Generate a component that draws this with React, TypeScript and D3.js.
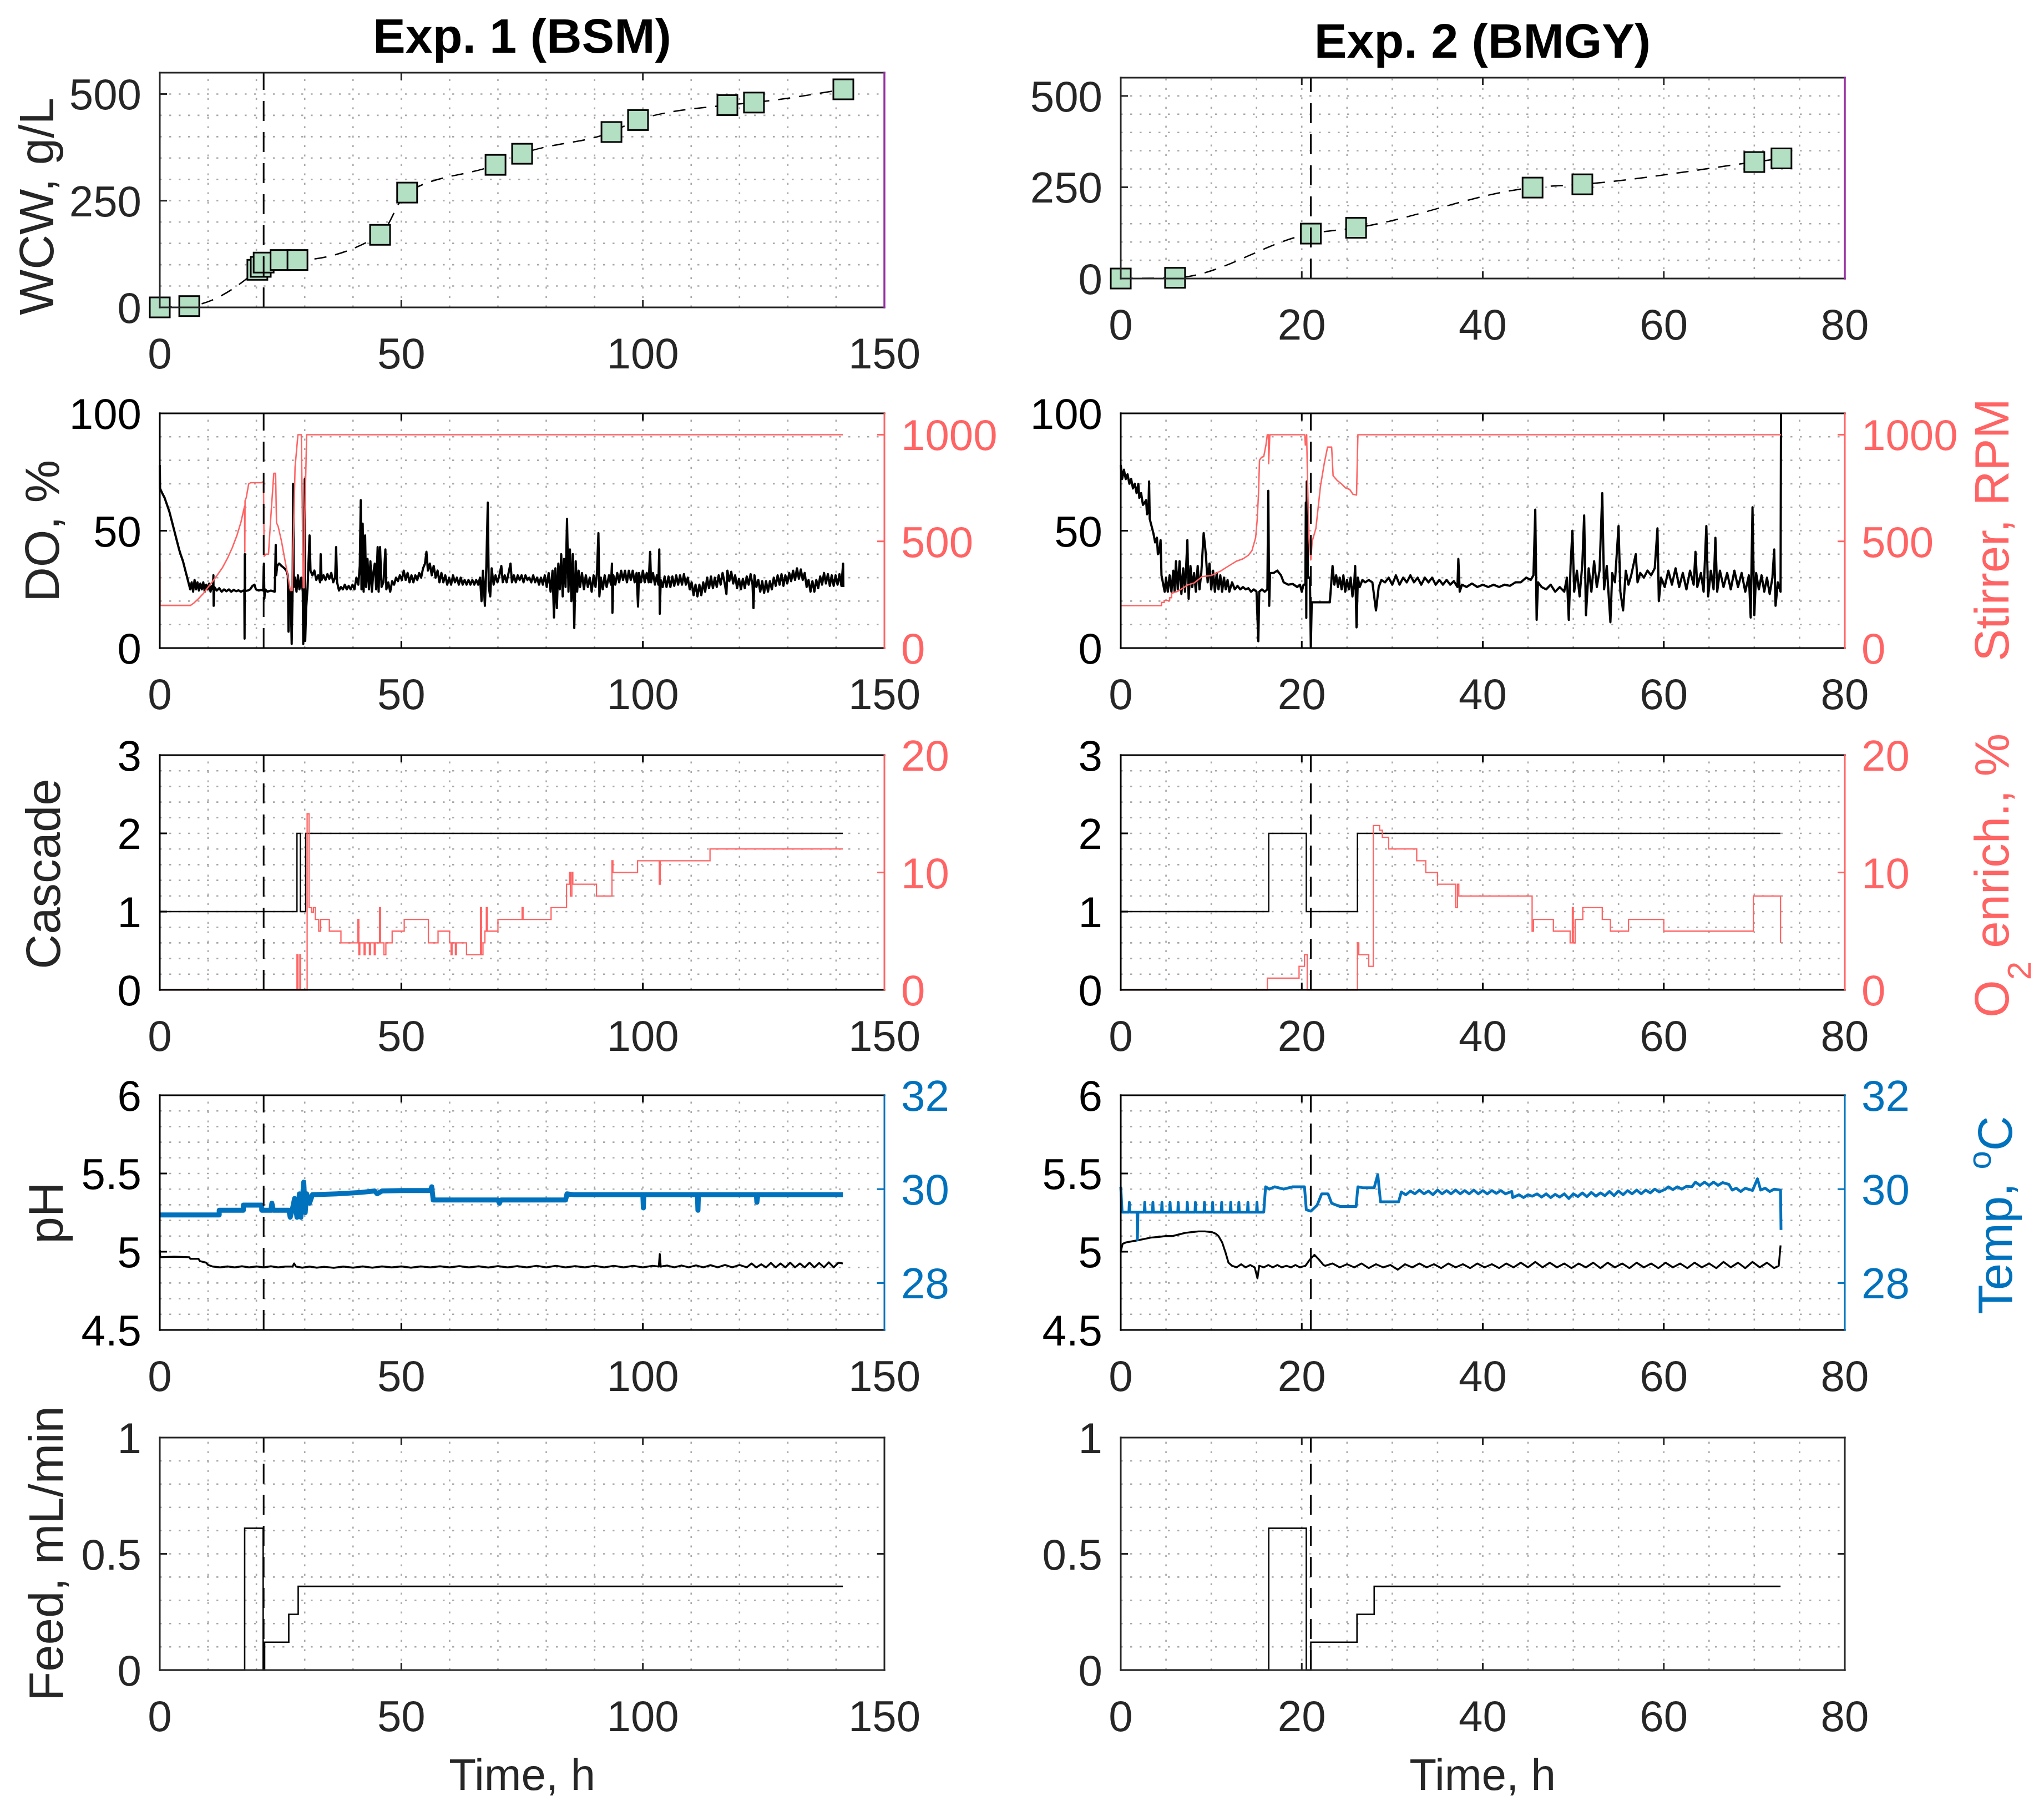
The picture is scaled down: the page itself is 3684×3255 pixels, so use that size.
import React from "react";
import * as d3 from "d3";

type Pt = [number, number];

// ================= Exp. 1 (BSM) =================
const wcw1Time = [0, 6.1, 20.2, 20.9, 21.5, 25, 28.5, 45.6, 51.2, 69.5, 75, 93.5, 99, 117.5, 123, 141.5];
const wcw1Value = [0, 3, 88, 95, 105, 111, 111, 170, 269, 334, 360, 411, 439, 474, 480, 511];

const do1: Pt[] = [
  [0,78],[0.05,68],[0.5,66],[1,64],[1.5,61],[2,58],[2.5,54],[3,50],[3.5,46],[4,42],[4.3,40],[4.8,37],[5.3,33],[5.8,29],[6.3,25],
  [6.6,28],[6.9,24],[7.2,29],[7.5,25],[7.8,28],[8.1,24.5],[8.4,27.5],[8.7,25],[9,28],[9.3,24],[9.6,27],[9.9,25],[10.2,27.5],[10.5,24],[10.8,26.5],[11.0,25],[11.1,31],[11.15,18],[11.3,26],
  [11.8,24.5],[12.3,25.5],[12.8,24],[13.3,25],[13.8,24.2],[14.3,25],[14.8,24],[15.3,24.8],[15.8,24.2],[16.3,24.6],[16.8,24],[17.3,24.5],[17.5,24.3],[17.55,4],[17.6,40],[17.65,24.3],
  [18.2,24.5],[18.7,25],[19.2,26.5],[19.6,27],[19.9,25],[20.5,24.5],[21.0,24.8],[21.4,24.5],[21.55,36],[21.65,21],[21.8,25],[22.3,24],[23.0,24.5],[23.8,24],[24.0,44],[24.1,31],[24.3,35],[24.7,36],[25.2,35],[25.8,34],[26.2,33],[26.5,31],[26.65,7],[26.8,25],[27.1,24],[27.3,1.7],[27.5,25],[27.6,70],[27.75,26],[28.0,30],[28.3,24],[28.6,31],[28.9,25],[29.3,30],[29.6,24],[29.7,1.7],[29.85,30],[30.0,72],[30.1,3],[30.3,17],[30.6,26],[31.0,48],[31.2,33],
  [31.6,31],[32.0,33],[32.4,29],[32.8,31],[33.2,28],[33.3,40],[33.5,29],[33.9,31],[34.3,29],[34.7,31.5],[35.1,29.5],[35.5,32],[35.9,28],[36.3,30],[36.5,43],[36.7,28],[37.1,24.5],[37.5,26],[37.9,25],[38.3,27],[38.7,25],[39.1,26.5],[39.5,25],[39.9,27],[40.3,25],[40.7,30],[41.1,27],[41.4,35],[41.6,63],[41.75,25],[42.0,53],[42.2,24],[42.5,48],[42.7,26],[43.0,38],[43.3,25],[43.6,37],[43.9,24],[44.2,32],[44.5,36],[44.8,25],[45.1,43],[45.3,24],[45.6,43],[45.9,26],[46.3,28],[46.7,42],[46.9,25],[47.3,28],[47.7,24],[48.1,28.5],[48.5,27],[48.9,30],[49.3,28.5],[49.7,31],
  [50.1,29],[50.5,33],[50.9,29],[51.3,32],[51.7,28],[52.1,31],[52.5,28],[52.9,31],[53.3,29],[53.7,32],[54.1,30],[54.5,34],[54.9,36],[55.2,41],[55.5,33],[55.9,36],[56.3,31],[56.7,35],[57.1,30],[57.5,33],[57.9,28],[58.3,32],[58.7,28],[59.1,31],[59.5,27],[59.9,30],[60.3,27],[60.7,31],[61.1,28],[61.5,30],[61.9,27],[62.3,30],[62.7,27],[63.1,29],[63.5,27],[63.9,29],[64.3,27],[64.7,29],[65.1,27],[65.5,29],[65.9,27],[66.3,30],[66.6,20],[66.9,33],[67.3,18],[67.6,35],[67.9,62],[68.1,26],[68.4,22],[68.7,34],[69.1,27],[69.5,31],[69.9,28],[70.3,31],[70.7,35],[71.0,28],[71.4,31],[71.8,28],[72.2,32],[72.6,36],[72.9,28],[73.3,31],[73.7,28],[74.1,31],[74.5,29],[74.9,31],[75.3,28],[75.7,31],[76.1,29],[76.5,30],[76.9,28],[77.3,31],[77.7,28],[78.1,30],[78.5,27],[78.9,30],[79.3,27],[79.7,31],
  [80.1,26],[80.5,32],[80.9,24],[81.3,33],[81.6,13],[81.9,34],[82.2,17],[82.5,36],[82.8,25],[83.1,40],[83.4,22],[83.7,38],[84.0,26],[84.3,55],[84.6,24],[84.9,42],[85.2,20],[85.5,40],[85.8,8.5],[86.1,37],[86.4,24],[86.7,33],[87.0,26],[87.4,32],[87.8,25],[88.2,31],[88.6,26],[89.0,30],[89.4,24],[89.8,31],[90.2,26],[90.5,32],[90.8,49],[91.0,22],[91.3,30],[91.7,25],[92.1,31],[92.5,26],[92.9,30],
  [93.0,31],[93.4,27],[93.6,36],[93.7,15],[93.9,31],[94.3,27],[94.7,32],[95.1,28],[95.5,33],[95.9,29],[96.3,33],[96.7,28],[97.1,33],[97.5,29],[97.9,33],[98.3,28],[98.7,32],[99.0,17.7],[99.2,32],[99.6,28],[100.0,33],[100.4,28],[100.8,32],[101.2,28],[101.5,41],[101.7,28],[102.1,32],[102.5,27],[102.9,31],[103.2,27],[103.4,42],[103.5,14.6],[103.7,29],[104.1,26],[104.5,30.5],[104.9,26],[105.3,30.5],[105.7,26],[106.1,30.5],[106.5,26.5],[106.9,31],[107.3,27],[107.7,31],[108.1,27],[108.5,31.5],[108.9,27],[109.3,30],[109.7,25],[110.1,28],[110.5,22.5],[110.9,27],[111.3,22],[111.7,27],[112.1,22.5],[112.5,28],[112.9,24],[113.3,30],[113.7,25.5],[114.1,30.5],[114.5,25.5],[114.9,30],[115.3,26],[115.7,31],[116.1,27],[116.5,32],[116.9,28],[117.3,23],[117.5,33],[117.9,28.5],[118.3,32.5],[118.7,27.5],[119.1,31],[119.5,25.5],[119.9,29.5],
  [120.3,25],[120.7,29.5],[121.1,25.5],[121.5,30.5],[121.9,27],[122.3,31.5],[122.7,27],[122.9,17],[123.1,31],[123.5,26],[123.9,29],[124.3,24],[124.7,28.5],[125.1,23.5],[125.5,28.5],[125.9,24],[126.3,28.5],[126.7,25],[127.1,30],[127.5,26.5],[127.9,31],[128.3,27],[128.7,31.5],[129.1,26.5],[129.5,31],[129.9,27.5],[130.3,32],[130.7,28.5],[131.1,33],[131.5,29],[131.9,34],[132.3,29.5],[132.7,33.5],[133.1,29],[133.5,32],[133.9,26],[134.3,29],[134.7,24],[135.1,28.5],[135.5,24],[135.9,29],[136.3,25.5],[136.7,30.5],[137.1,27],[137.5,32],[137.9,27.5],[138.3,31.5],[138.7,26.5],[139.1,31],[139.5,26.5],[139.9,31],[140.3,27],[140.7,31.5],[141.1,26.5],[141.45,36],[141.5,26]
];

const stirrer1: Pt[] = [
  [0,405],[0.02,200],[6.36,200],[7,210],[8,231],[9,255],[10,285],[11,314],[12,345],[13,378],[14,420],[15,470],[16,530],[16.8,590],[17.3,640],[17.55,665],[17.6,450],[17.65,690],[17.9,705],[18.4,769],[18.8,775],[21.0,775],[21.47,780],[21.6,430],[21.97,440],[22.5,440],[23.0,620],[23.6,819],[23.97,819],[24.16,587],[24.5,570],[25.2,500],[25.9,413],[26.5,340],[27.03,270],[27.4,270],[28.0,847],[28.6,1000],[29.3,1000],[29.7,283],[29.9,283],[30.0,600],[30.4,1000],[141.4,1000]
];

const cascade1: Pt[] = [[0,1],[28.4,2],[29.1,1],[30.2,2],[141.4,2]];

const o2Enrich1: Pt[] = [
  [0,0],[28.4,3],[28.6,0],[29.0,3],[29.15,0],[30.5,15],[30.9,7],[31.4,6.6],[31.8,7],[32.2,6],[32.9,5],[33.3,6],[35.1,5],[37.5,4],[41.0,6],[41.2,3],[41.4,4],[42.3,3],[42.5,4],[43.4,3],[43.6,4],[44.4,3],[44.6,4],[45.5,7],[45.7,4],[46.4,3],[46.8,4],[48.1,5],[50.6,6],[55.6,4],[57.6,5],[60.0,4],[60.3,3],[60.5,4],[61.2,3],[61.4,4],[63.5,3],[66.4,7],[66.6,3],[66.9,4],[67.3,5],[67.6,7],[67.8,5],[70.0,6],[75.0,7],[75.2,6],[81.0,7],[84.2,9],[84.8,10],[85.0,8],[85.3,10],[85.5,9],[90.4,8],[93.6,11],[93.8,10],[98.9,11],[103.4,9],[103.6,11],[113.9,12],[141.4,12]
];

const ph1: Pt[] = [
  [0,5.01],[0.1,4.965],[3,4.968],[6.1,4.965],[6.3,4.955],[8.0,4.955],[8.3,4.94],[9.6,4.93],[10.0,4.915],[11.0,4.905],[12.5,4.9],[14,4.906],[15.5,4.9],[17,4.907],[18.5,4.9],[20,4.906],[21.5,4.9],[23,4.907],[24.5,4.9],[26,4.905],[27.5,4.905],[27.8,4.925],[28.2,4.905],[29.5,4.898],[31,4.905],[32.5,4.898],[34,4.904],[36,4.897],[38,4.905],[40,4.898],[42,4.906],[44,4.898],[46,4.906],[48,4.9],[50,4.906],[52,4.898],[54,4.906],[56,4.9],[58,4.907],[60,4.9],[62,4.908],[64,4.9],[66,4.907],[68,4.899],[70,4.908],[72,4.9],[74,4.908],[76,4.9],[78,4.91],[80,4.9],[82,4.91],[84,4.9],[86,4.908],[88,4.9],[90,4.91],[92,4.9],[94,4.91],[96,4.9],[98,4.91],[100,4.9],[102,4.91],[103.3,4.905],[103.5,4.985],[103.7,4.905],[105,4.912],[106.5,4.9],[108,4.912],[109.5,4.9],[111,4.913],[112.5,4.9],[114,4.914],[115.5,4.9],[117,4.915],[118.5,4.9],[120,4.915],[121.5,4.9],[122.5,4.925],[123.5,4.9],[124.5,4.92],[125.5,4.9],[126.5,4.928],[127.5,4.9],[128.5,4.925],[129.5,4.9],[130.5,4.93],[131.5,4.9],[132.5,4.925],[133.5,4.9],[134.5,4.93],[135.5,4.9],[136.5,4.928],[137.5,4.9],[138.5,4.932],[139.5,4.9],[140.5,4.93],[141.4,4.925]
];

const temp1: Pt[] = [
  [0,29.45],[12.3,29.45],[12.3,29.55],[17.3,29.55],[17.3,29.66],[21.1,29.66],[21.1,29.55],[23.0,29.55],[23.2,29.7],[23.5,29.55],[26.7,29.55],[27.0,29.4],[27.5,29.6],[27.9,29.8],[28.4,29.4],[28.9,29.9],[29.2,29.4],[29.8,30.15],[30.1,29.5],[30.4,29.9],[31.0,29.7],[31.6,29.88],[36.6,29.9],[41.6,29.93],[44.5,29.96],[45,29.9],[46,29.96],[50.3,29.97],[56,29.97],[56.3,30.05],[56.6,29.77],[70,29.77],[70.3,29.7],[70.6,29.77],[84,29.77],[84.3,29.9],[85.8,29.88],[100,29.88],[100.1,29.6],[100.2,29.88],[111.3,29.88],[111.4,29.55],[111.5,29.88],[123.5,29.88],[123.6,29.72],[123.8,29.88],[141.4,29.88]
];

const feed1: Pt[] = [[0,0],[17.57,0.61],[21.4,0],[21.7,0.12],[26.7,0.24],[28.65,0.36],[141.4,0.36]];
const induction1 = 21.5;

// ================= Exp. 2 (BMGY) =================
const wcw2Time = [0, 6, 21, 26, 45.5, 51, 70, 73];
const wcw2Value = [0, 2, 123, 139, 249, 258, 319, 329];

const do2: Pt[] = [
  [0,78],[0.15,72],[0.35,76],[0.55,72],[0.75,74],[0.95,70],[1.15,72],[1.35,68],[1.55,70],[1.75,66],[1.94,70],[2.05,64],[2.25,66],[2.45,61],[2.65,62],[2.8,63],[2.9,57],[3.05,58],[3.13,71],[3.2,55],[3.4,52],[3.6,49],[3.8,45],[4.0,47],[4.1,40],[4.25,41],[4.4,46],[4.5,31],[4.7,27],[4.85,24],
  [5.0,30],[5.2,24],[5.4,31],[5.6,24],[5.8,33],[5.95,24],[6.1,37],[6.3,25],[6.5,37],[6.7,23],[6.9,34],[7.1,24],[7.36,46],[7.5,21],[7.7,35],[7.9,26],[8.1,32],[8.3,24],[8.5,35],[8.7,25],[8.9,32],[9.16,49],[9.4,40],[9.6,28],[9.8,36],[10.0,25],[10.2,33],[10.4,24],[10.6,32],[10.8,25],[11.0,31],[11.2,24],[11.4,30],[11.6,25],[11.8,29],[12.0,24],[12.3,28],[12.6,25],[12.9,26.5],[13.2,25],[13.5,26],[13.8,25],[14.1,25.5],[14.4,24],[14.7,25],[15.0,24],[15.2,2.9],[15.3,24],[15.6,25],[15.9,24],[16.2,25],[16.3,67],[16.4,18],[16.5,32],[16.9,32],[17.3,33],[17.7,31],[18.0,28],[18.5,27],[19.0,27.3],[19.5,26],[19.8,27],[20.0,24],[20.2,27],[20.4,27],[20.45,62],[20.5,12.8],[20.55,71],[20.7,30],[20.9,30],[21.0,0.5],[21.1,19.5],[23.1,19.5],
  [23.4,35],[23.6,27],[23.8,31],[24.0,26],[24.2,30],[24.4,25],[24.6,31],[24.8,24],[25.0,29],[25.2,25],[25.4,30],[25.6,22],[25.8,28],[25.9,35],[26.05,8.8],[26.2,30],[26.4,26],[26.7,29],[27.0,28],[27.4,29],[27.8,28],[28.0,22],[28.2,16],[28.5,26],[28.8,29],[29.2,28],[29.6,30],
  [30.0,27],[30.4,31],[30.8,27],[31.2,30],[31.6,28],[32.0,31],[32.4,28],[32.8,30],[33.2,27],[33.6,30],[34.0,28],[34.4,30],[34.8,27],[35.2,29],[35.6,27],[36.0,29],[36.4,27],[36.8,28.5],[37.2,26],[37.3,38],[37.45,24],[37.7,27],[38.2,26],[38.8,27.5],[39.4,26],[40.0,27],[40.6,26],[41.2,27],[41.8,26],[42.4,27],[43.0,26.5],[43.6,28],[44.2,28],[44.8,30],[45.3,29],[45.6,31],[45.8,59],[45.95,12],[46.1,28],[46.5,26],[47.0,25],[47.5,27],[48.0,24],[48.5,26],[49.0,24],[49.3,30],[49.5,12],[49.7,35],[49.9,50],[50.1,24],[50.4,33],[50.7,22],[51.0,36],[51.2,56.5],[51.4,14],[51.7,34],[52.0,24],[52.3,37],[52.6,26],[52.9,33],[53.2,66],[53.4,25],[53.7,35],[54.1,11],[54.3,32],[54.6,28],[55.0,52],[55.2,24],[55.5,16],[55.8,33],[56.1,27],[56.4,31],[56.9,40],[57.1,28],[57.4,32],[57.8,30],[58.2,33],[58.6,31],[59.0,34],[59.3,51],[59.45,20],[59.7,30],
  [60.1,26],[60.5,33],[60.9,27],[61.3,34],[61.7,26],[62.1,32],[62.5,25],[62.9,33],[63.3,27],[63.5,41],[63.7,26],[64.1,32],[64.4,24],[64.7,52],[64.9,22],[65.2,33],[65.5,25],[65.7,47],[65.9,24],[66.2,33],[66.6,26],[67.0,32],[67.4,25],[67.8,33],[68.2,26],[68.6,32],[69.0,24],[69.4,31],[69.6,13],[69.8,60],[70.0,14],[70.2,32],[70.5,25],[70.8,31],[71.1,24],[71.4,30],[71.7,23],[72.0,30],[72.2,42],[72.35,18],[72.6,28],[72.9,24],[72.95,100]
];

const stirrer2: Pt[] = [
  [0,199],[4.5,199],[4.5,214],[4.8,214],[4.8,223],[5.4,223],[5.4,236],[5.62,236],[5.62,257],[6.3,266],[6.8,279],[7.4,296],[8.1,305],[8.99,335],[10.0,340],[11.04,361],[11.7,379],[12.2,392],[12.77,407],[13.5,418],[14.1,435],[14.5,457],[14.9,517],[15.08,604],[15.23,734],[15.33,881],[15.55,894],[15.8,898],[16.04,951],[16.19,1000],[16.31,1000],[16.34,864],[16.47,1000],[20.33,1000],[20.4,951],[20.54,1000],[20.64,777],[20.8,517],[21.0,413],[21.15,500],[21.56,561],[22.07,760],[22.48,864],[22.85,942],[23.3,942],[23.46,808],[23.9,786],[24.4,769],[24.83,751],[25.3,743],[25.65,721],[26.05,717],[26.2,1000],[72.95,1000]
];

const cascade2: Pt[] = [[0,1],[16.35,2],[20.5,1],[26.15,2],[72.9,2]];

const o2Enrich2: Pt[] = [
  [0,0],[16.2,1],[19.7,2],[20.3,3],[20.6,0],[26.15,4],[26.3,3],[27.4,2],[27.9,14],[28.4,14],[28.6,13.6],[28.9,13],[29.6,12],[32.7,11],[33.7,10],[35.0,9],[37.0,7],[37.2,9],[37.35,8],[45.45,5],[45.6,6],[47.8,5],[49.65,4],[49.9,7],[50.0,4],[50.2,6],[51.05,7],[53.2,6],[54.1,5],[56.1,6],[60.0,5],[69.9,8],[72.9,4]
];

const ph2: Pt[] = [
  [0,5.0],[0.2,5.05],[0.6,5.06],[1.6,5.07],[2.5,5.08],[3.3,5.09],[4.2,5.095],[5.0,5.1],[5.7,5.1],[6.4,5.11],[7.1,5.12],[7.8,5.125],[8.6,5.13],[9.3,5.13],[10.1,5.125],[10.5,5.115],[10.8,5.1],[11.2,5.06],[11.6,4.99],[11.9,4.93],[12.3,4.91],[12.8,4.9],[13.3,4.92],[13.8,4.9],[14.3,4.915],[14.8,4.9],[15.1,4.83],[15.3,4.91],[15.8,4.9],[16.3,4.915],[16.8,4.9],[17.3,4.915],[17.8,4.9],[18.3,4.91],[18.8,4.9],[19.3,4.915],[19.8,4.9],[20.4,4.91],[20.9,4.95],[21.4,4.98],[21.9,4.95],[22.4,4.915],[22.6,4.91],
  [23.4,4.925],[24.2,4.9],[25,4.92],[25.8,4.9],[26.6,4.925],[27.4,4.895],[28.2,4.92],[29,4.9],[29.8,4.915],[30.6,4.885],[31.4,4.92],[32.2,4.9],[33,4.925],[33.8,4.9],[34.6,4.92],[35.4,4.895],[36.2,4.925],[37,4.9],[37.8,4.92],[38.6,4.895],[39.4,4.925],[40.2,4.9],[41,4.92],[41.8,4.895],[42.6,4.925],[43.4,4.9],[44.2,4.93],[45,4.9],[45.8,4.935],[46.6,4.9],[47.4,4.93],[48.2,4.9],[49,4.925],[49.8,4.895],[50.6,4.925],[51.4,4.9],[52.2,4.93],[53,4.895],[53.8,4.93],[54.6,4.9],[55.4,4.925],[56.2,4.895],[57,4.93],[57.8,4.9],[58.6,4.925],[59.4,4.895],[60.2,4.93],[61,4.9],[61.8,4.925],[62.6,4.895],[63.4,4.93],[64.2,4.9],[65,4.925],[65.8,4.895],[66.6,4.935],[67.4,4.9],[68.2,4.93],[69,4.895],[69.8,4.935],[70.6,4.9],[71.4,4.93],[72.2,4.895],[72.7,4.91],[72.9,5.04]
];

const temp2: Pt[] = [
  [0,30.05],[0.15,29.51],[0.9,29.51],[0.95,29.72],[1.0,29.51],[1.8,29.51],[1.84,28.92],[1.9,29.51],[2.6,29.51],[2.65,29.72],[2.7,29.51],[3.5,29.51],[3.55,29.72],[3.6,29.51],[4.5,29.51],[4.55,29.72],[4.6,29.51],[5.4,29.51],[5.45,29.72],[5.5,29.51],[6.3,29.51],[6.35,29.72],[6.4,29.51],[7.3,29.51],[7.35,29.72],[7.4,29.51],[8.2,29.51],[8.25,29.72],[8.3,29.51],[9.2,29.51],[9.25,29.72],[9.3,29.51],[10.1,29.51],[10.15,29.72],[10.2,29.51],[11.1,29.51],[11.15,29.72],[11.2,29.51],[12.1,29.51],[12.15,29.72],[12.2,29.51],[13.0,29.51],[13.05,29.72],[13.1,29.51],[14.0,29.51],[14.05,29.72],[14.1,29.51],[15.0,29.51],[15.05,29.72],[15.1,29.51],[15.8,29.51],
  [16.0,30.05],[16.4,30.0],[17.0,30.05],[18.0,30.0],[19.0,30.05],[20.3,30.05],[20.5,29.56],[21.0,29.53],[21.7,29.66],[22.2,29.9],[22.9,29.9],[23.3,29.7],[24.2,29.63],[26.0,29.63],[26.2,30.05],[26.7,30.03],[28.0,30.03],[28.4,30.31],[28.7,29.73],[30.7,29.73],
  [31.0,29.94],[31.5,29.88],[32,29.96],[32.5,29.9],[33,29.98],[33.5,29.9],[34,29.96],[34.5,29.88],[35,29.98],[35.5,29.9],[36,29.97],[36.5,29.9],[37,29.98],[37.5,29.9],[38,29.97],[38.5,29.9],[39,29.98],[39.5,29.9],[40,29.97],[40.5,29.9],[41,29.97],[41.5,29.91],[42,29.97],[42.5,29.9],[43.2,29.95],[43.3,29.82],[44,29.88],[44.5,29.82],[45,29.88],[45.45,29.85],[46,29.9],[46.5,29.83],[47,29.9],[47.5,29.82],[48,29.89],[48.5,29.83],[49,29.9],[49.5,29.8],[50,29.9],[50.5,29.84],[51,29.92],[51.5,29.84],[52,29.93],[52.5,29.85],[53,29.92],[53.5,29.86],[54,29.95],[54.5,29.86],[55,29.96],[55.5,29.88],[56,29.97],[56.5,29.9],[57,29.98],[57.5,29.9],[58,29.98],[58.5,29.92],[59,30.0],[59.5,29.94],[60.2,30.0],[60.5,30.05],[61,29.99],[61.5,30.05],[62,30.0],[62.5,30.06],[63.1,30.05],[63.5,30.15],[64,30.08],[64.5,30.15],[65,30.08],[65.5,30.15],[66,30.08],[66.5,30.14],[67.2,30.1],[67.55,29.98],[68,30.02],[68.5,29.95],[69,30.02],[69.8,29.97],[70.35,30.22],[70.7,29.98],[71.2,30.02],[71.7,29.95],[72.2,30.0],[72.9,29.98],[72.95,29.13]
];

const feed2: Pt[] = [[0,0],[16.35,0.61],[20.5,0],[21.0,0.12],[26.1,0.24],[28.0,0.36],[72.9,0.36]];
const induction2 = 21.0;

// ================= Axes / ticks =================
const xTicks1 = [0, 50, 100, 150];
const xTicks2 = [0, 20, 40, 60, 80];
const wcwTicks = [0, 250, 500];
const doTicks = [0, 50, 100];
const stirrerTicks = [0, 500, 1000];
const cascadeTicks = [0, 1, 2, 3];
const o2Ticks = [0, 10, 20];
const phTicks = [4.5, 5, 5.5, 6];
const tempTicks = [28, 30, 32];
const feedTicks = [0, 0.5, 1];

const titles = ["Exp. 1 (BSM)", "Exp. 2 (BMGY)"];

// ================= Style =================
const FONT = "'Liberation Sans', Arial, Helvetica, sans-serif";
const TICK_FS = 78;
const LABEL_FS = 87;
const RED = "#ff6464";
const BLUE = "#0072bd";
const PURPLE = "#9530a0";
const AXC = "#262626";
const MARKER = "#b3dfc3";

type Side = { domain: [number, number]; ticks: number[]; color: string; fmt?: (v: number) => string };
type Scale = d3.ScaleLinear<number, number>;

interface PanelProps {
  box: { l: number; r: number; t: number; b: number };
  xMax: number;
  xTicks: number[];
  xStep: number;
  yL: Side;
  yStep: number;
  yR?: Side;
  rightEdge?: string;
  frame: string;
  vline: number;
  render: (sx: Scale, syL: Scale, syR: Scale | null) => React.ReactNode;
}

function Panel(p: PanelProps) {
  const { l, r, t, b } = p.box;
  const sx = d3.scaleLinear().domain([0, p.xMax]).range([l, r]);
  const syL = d3.scaleLinear().domain(p.yL.domain).range([b, t]);
  const syR = p.yR ? d3.scaleLinear().domain(p.yR.domain).range([b, t]) : null;
  const nx = Math.round(p.xMax / p.xStep);
  const gx = d3.range(1, nx).map((i) => i * p.xStep);
  const [y0, y1] = p.yL.domain;
  const ny = Math.round((y1 - y0) / p.yStep);
  const gy = d3.range(1, ny).map((i) => y0 + i * p.yStep);
  const TL = 13;
  const fmtL = p.yL.fmt || ((v: number) => String(v));
  const inner = (arr: number[], dom: [number, number]) => arr.filter((v) => v > dom[0] + 1e-9 && v < dom[1] - 1e-9);
  const rightColor = p.yR ? p.yR.color : p.rightEdge || p.frame;
  return (
    <g>
      <g stroke="#a9a9a9" strokeWidth={2.6} strokeDasharray="3.5 13.5" fill="none">
        {gx.map((v) => (
          <line key={"gx" + v} x1={sx(v)} x2={sx(v)} y1={b} y2={t} />
        ))}
        {gy.map((v) => (
          <line key={"gy" + v} x1={l} x2={r} y1={syL(v)} y2={syL(v)} />
        ))}
      </g>
      {p.render(sx, syL, syR)}
      <line x1={sx(p.vline)} x2={sx(p.vline)} y1={b} y2={t} stroke="#000" strokeWidth={3} strokeDasharray="36 20" />
      <g stroke={p.frame} strokeWidth={3}>
        {inner(p.xTicks, [0, p.xMax]).map((v) => (
          <g key={"xt" + v}>
            <line x1={sx(v)} x2={sx(v)} y1={b} y2={b - TL} />
            <line x1={sx(v)} x2={sx(v)} y1={t} y2={t + TL} />
          </g>
        ))}
      </g>
      <g stroke={p.yL.color === "#000" ? "#000" : p.frame} strokeWidth={3}>
        {inner(p.yL.ticks, p.yL.domain).map((v) => (
          <line key={"ylt" + v} x1={l} x2={l + TL} y1={syL(v)} y2={syL(v)} />
        ))}
        {!p.yR && !p.rightEdge &&
          inner(p.yL.ticks, p.yL.domain).map((v) => (
            <line key={"yrt" + v} x1={r} x2={r - TL} y1={syL(v)} y2={syL(v)} />
          ))}
      </g>
      {p.yR && syR && (
        <g stroke={p.yR.color} strokeWidth={3}>
          {inner(p.yR.ticks, p.yR.domain).map((v) => (
            <line key={"yrt" + v} x1={r} x2={r - TL} y1={syR(v)} y2={syR(v)} />
          ))}
        </g>
      )}
      <line x1={l} x2={r} y1={t} y2={t} stroke={p.frame} strokeWidth={3} strokeLinecap="square" />
      <line x1={l} x2={r} y1={b} y2={b} stroke={p.frame} strokeWidth={3} strokeLinecap="square" />
      <line x1={l} x2={l} y1={t} y2={b} stroke={p.frame} strokeWidth={3} strokeLinecap="square" />
      <line x1={r} x2={r} y1={t} y2={b} stroke={rightColor} strokeWidth={p.rightEdge ? 3.5 : 3} strokeLinecap="square" />
      <g fontSize={TICK_FS} fill={AXC} textAnchor="middle">
        {p.xTicks.map((v) => (
          <text key={"xl" + v} x={sx(v)} y={b + 110}>
            {v}
          </text>
        ))}
      </g>
      <g fontSize={TICK_FS} fill={p.yL.color} textAnchor="end">
        {p.yL.ticks.map((v) => (
          <text key={"yl" + v} x={l - 33} y={syL(v) + 28}>
            {fmtL(v)}
          </text>
        ))}
      </g>
      {p.yR && syR && (
        <g fontSize={TICK_FS} fill={p.yR.color} textAnchor="start">
          {p.yR.ticks.map((v) => (
            <text key={"yr" + v} x={r + 30} y={syR(v) + 28}>
              {v}
            </text>
          ))}
        </g>
      )}
    </g>
  );
}

function linePath(data: Pt[], sx: Scale, sy: Scale, curve: d3.CurveFactory = d3.curveLinear) {
  return (
    d3
      .line<Pt>()
      .x((d) => sx(d[0]))
      .y((d) => sy(d[1]))
      .curve(curve)(data) || ""
  );
}

const COLS = [
  { l: 288, r: 1594, xMax: 150, xTicks: xTicks1, xStep: 10, vline: induction1, cx: 941 },
  { l: 2020, r: 3325, xMax: 80, xTicks: xTicks2, xStep: 5, vline: induction2, cx: 2672 },
];

const ROWS = [
  { t: 131, b: 554 },
  { t: 745, b: 1168 },
  { t: 1361, b: 1784 },
  { t: 1974, b: 2397 },
  { t: 2591, b: 3010 },
];

const EXP = [
  { wcwT: wcw1Time, wcwV: wcw1Value, dO: do1, stir: stirrer1, casc: cascade1, o2: o2Enrich1, ph: ph1, temp: temp1, feed: feed1, tempW: 9 },
  { wcwT: wcw2Time, wcwV: wcw2Value, dO: do2, stir: stirrer2, casc: cascade2, o2: o2Enrich2, ph: ph2, temp: temp2, feed: feed2, tempW: 5 },
];

export default function App() {
  return (
    <svg
      width={3684}
      height={3255}
      viewBox="0 0 3684 3255"
      style={{ position: "absolute", left: 0, top: 0, background: "#fff" }}
      fontFamily={FONT}
    >
      <rect x={0} y={0} width={3684} height={3255} fill="#fff" />
      {COLS.map((c, ci) => {
        const e = EXP[ci];
        const row1 = ci === 0 ? ROWS[0] : { t: 140, b: 502 };
        const pts: Pt[] = e.wcwT.map((tt, i) => [tt, e.wcwV[i]] as Pt);
        return (
          <g key={"col" + ci}>
            <text x={c.cx} y={ci === 0 ? 95 : 104} textAnchor="middle" fontSize={88} fontWeight="bold" fill="#000">
              {titles[ci]}
            </text>
            <Panel
              box={{ l: c.l, r: c.r, t: row1.t, b: row1.b }}
              xMax={c.xMax}
              xTicks={c.xTicks}
              xStep={c.xStep}
              yL={{ domain: [0, 550], ticks: wcwTicks, color: AXC }}
              yStep={50}
              rightEdge={PURPLE}
              frame={AXC}
              vline={c.vline}
              render={(sx, sy) => (
                <g>
                  <path d={linePath(pts, sx, sy, d3.curveMonotoneX)} fill="none" stroke="#000" strokeWidth={2.5} strokeDasharray="22 16" />
                  {pts.map((d, i) => (
                    <rect key={"m" + i} x={sx(d[0]) - 18} y={sy(d[1]) - 18} width={36} height={36} fill={MARKER} stroke="#000" strokeWidth={3} />
                  ))}
                </g>
              )}
            />
            <Panel
              box={{ l: c.l, r: c.r, ...ROWS[1] }}
              xMax={c.xMax}
              xTicks={c.xTicks}
              xStep={c.xStep}
              yL={{ domain: [0, 100], ticks: doTicks, color: "#000" }}
              yStep={10}
              yR={{ domain: [0, 1100], ticks: stirrerTicks, color: RED }}
              frame="#000"
              vline={c.vline}
              render={(sx, sy, syR) => (
                <g fill="none" strokeLinejoin="round">
                  <path d={linePath(e.dO, sx, sy)} stroke="#000" strokeWidth={4} />
                  <path d={linePath(e.stir, sx, syR as Scale)} stroke={RED} strokeWidth={2.6} />
                </g>
              )}
            />
            <Panel
              box={{ l: c.l, r: c.r, ...ROWS[2] }}
              xMax={c.xMax}
              xTicks={c.xTicks}
              xStep={c.xStep}
              yL={{ domain: [0, 3], ticks: cascadeTicks, color: "#000" }}
              yStep={0.2}
              yR={{ domain: [0, 20], ticks: o2Ticks, color: RED }}
              frame="#000"
              vline={c.vline}
              render={(sx, sy, syR) => (
                <g fill="none">
                  <path d={linePath(e.casc, sx, sy, d3.curveStepAfter)} stroke="#000" strokeWidth={2.4} />
                  <path d={linePath(e.o2, sx, syR as Scale, d3.curveStepAfter)} stroke={RED} strokeWidth={2.3} />
                </g>
              )}
            />
            <Panel
              box={{ l: c.l, r: c.r, ...ROWS[3] }}
              xMax={c.xMax}
              xTicks={c.xTicks}
              xStep={c.xStep}
              yL={{ domain: [4.5, 6], ticks: phTicks, color: "#000" }}
              yStep={0.1}
              yR={{ domain: [27, 32], ticks: tempTicks, color: BLUE }}
              frame="#000"
              vline={c.vline}
              render={(sx, sy, syR) => (
                <g fill="none" strokeLinejoin="round">
                  <path d={linePath(e.ph, sx, sy)} stroke="#000" strokeWidth={3.4} />
                  <path d={linePath(e.temp, sx, syR as Scale)} stroke={BLUE} strokeWidth={e.tempW} />
                </g>
              )}
            />
            <Panel
              box={{ l: c.l, r: c.r, ...ROWS[4] }}
              xMax={c.xMax}
              xTicks={c.xTicks}
              xStep={c.xStep}
              yL={{ domain: [0, 1], ticks: feedTicks, color: AXC }}
              yStep={0.1}
              frame={AXC}
              vline={c.vline}
              render={(sx, sy) => (
                <path d={linePath(e.feed, sx, sy, d3.curveStepAfter)} fill="none" stroke="#000" strokeWidth={2.6} />
              )}
            />
            <text x={c.cx} y={3226} textAnchor="middle" fontSize={80} fill={AXC}>
              Time, h
            </text>
          </g>
        );
      })}
      <g fontSize={LABEL_FS} fill={AXC} textAnchor="middle">
        <text transform="translate(96,372) rotate(-90)">WCW, g/L</text>
        <text transform="translate(106,957) rotate(-90)">DO, %</text>
        <text transform="translate(108,1575) rotate(-90)">Cascade</text>
        <text transform="translate(113,2186) rotate(-90)">pH</text>
        <text transform="translate(113,2800) rotate(-90)">Feed, mL/min</text>
      </g>
      <g fontSize={LABEL_FS} textAnchor="middle">
        <text transform="translate(3620,955) rotate(-90)" fill={RED}>
          Stirrer, RPM
        </text>
        <text transform="translate(3620,1578) rotate(-90)" fill={RED}>
          <tspan>O</tspan>
          <tspan dy={40} fontSize={60}>2</tspan>
          <tspan dy={-40}> enrich., %</tspan>
        </text>
        <text transform="translate(3626,2190) rotate(-90)" fill={BLUE}>
          <tspan>Temp, </tspan>
          <tspan dy={-38} fontSize={60}>o</tspan>
          <tspan dy={38}>C</tspan>
        </text>
      </g>
    </svg>
  );
}
